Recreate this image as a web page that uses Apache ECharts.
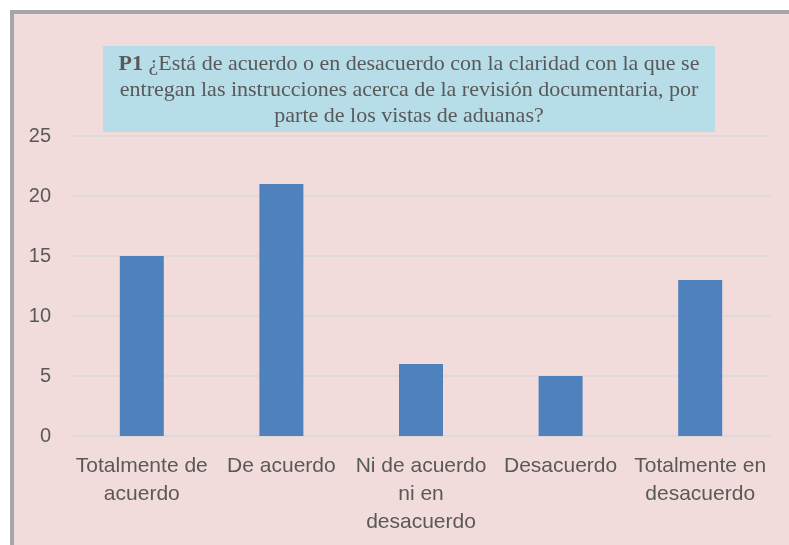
<!DOCTYPE html>
<html>
<head>
<meta charset="utf-8">
<script src="https://cdn.jsdelivr.net/npm/echarts@6/dist/echarts.min.js"></script>
<style>
  html, body { margin: 0; padding: 0; background: #ffffff; }
  #frame {
    position: absolute; left: 10px; top: 10px; width: 779px; height: 535px;
    background: #f2dcdb; border-left: 4px solid #a6a6a6; border-top: 4px solid #a6a6a6;
    box-sizing: border-box;
  }
  #chart_div { position: absolute; left: 0; top: 0; width: 789px; height: 545px; }
</style>
</head>
<body>
<div id="frame"></div>
<div id="chart_div"></div>
<script>
// categorias y valores
var categories = ['Totalmente de\nacuerdo', 'De acuerdo', 'Ni de acuerdo\nni en\ndesacuerdo', 'Desacuerdo', 'Totalmente en\ndesacuerdo']
var values = [15, 21, 6, 5, 13]
var titleText = '{b|P1} ¿Está de acuerdo o en desacuerdo con la claridad con la que se\nentregan las instrucciones acerca de la revisión documentaria, por\nparte de los vistas de aduanas?'

var labelFont = "'Liberation Sans', Arial, sans-serif"
var titleFont = "'Liberation Serif', 'Times New Roman', serif"

var myChart = echarts.init(document.getElementById('chart_div'))
myChart.setOption({
  animation: false,
  // cuadro del titulo
  graphic: [{
    type: 'rect',
    left: 103,
    top: 46,
    shape: { width: 612, height: 86 },
    style: { fill: '#b7dde8' },
    z: 1
  }, {
    type: 'text',
    x: 409,
    y: 51,
    z: 2,
    style: {
      text: titleText,
      align: 'center',
      verticalAlign: 'top',
      font: '22px ' + titleFont,
      fill: '#595959',
      lineHeight: 26,
      rich: {
        b: { fontFamily: titleFont, fontSize: 22, fontWeight: 'bold', fill: '#595959', lineHeight: 26 }
      }
    }
  }],
  grid: { left: 72, right: 19, top: 136, bottom: 109 },
  xAxis: {
    type: 'category',
    data: categories,
    axisLine: { lineStyle: { color: '#d9d9d9', width: 1.5 } },
    axisTick: { show: false },
    axisLabel: {
      interval: 0,
      margin: 16,
      fontFamily: labelFont,
      fontSize: 21,
      lineHeight: 28,
      color: '#595959'
    }
  },
  yAxis: {
    type: 'value',
    min: 0,
    max: 25,
    interval: 5,
    axisLine: { show: false },
    axisTick: { show: false },
    splitLine: { lineStyle: { color: '#d9d9d9', width: 1.5 } },
    axisLabel: {
      margin: 21,
      fontFamily: labelFont,
      fontSize: 20,
      color: '#595959'
    }
  },
  series: [{
    type: 'bar',
    data: values,
    barWidth: 44,
    itemStyle: { color: '#4f81bd' }
  }]
})
</script>
</body>
</html>
